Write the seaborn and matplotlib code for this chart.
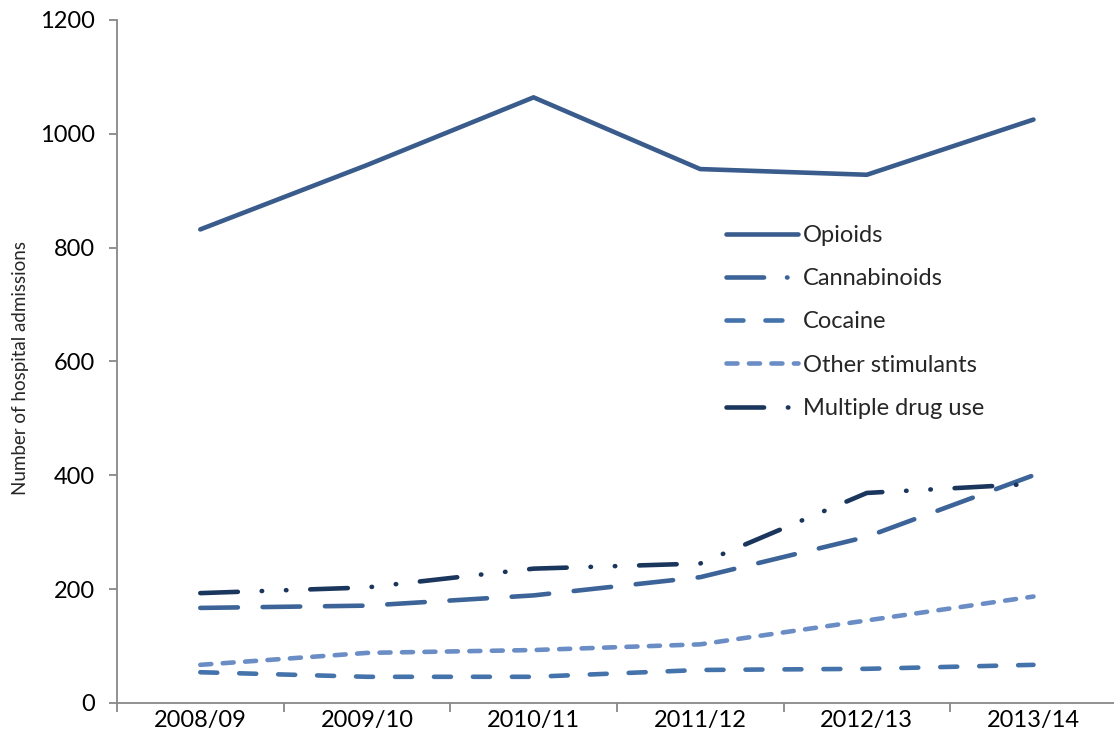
import numpy as np
import pandas as pd
import matplotlib
matplotlib.use("Agg")
import matplotlib.pyplot as plt
import seaborn as sns

# ── data ─────────────────────────────────────────────────────
years = ['2008/09', '2009/10', '2010/11', '2011/12', '2012/13', '2013/14']

opioids = [832, 945, 1064, 938, 928, 1025]
cannabinoids = [167, 171, 189, 221, 292, 400]
cocaine = [54, 46, 46, 58, 60, 67]
other_stimulants = [67, 88, 93, 103, 145, 187]
multiple_drug_use = [193, 203, 236, 245, 369, 385]

series_names = ['Opioids', 'Cannabinoids', 'Cocaine',
                'Other stimulants', 'Multiple drug use']
series_values = [opioids, cannabinoids, cocaine,
                 other_stimulants, multiple_drug_use]

# long format for seaborn
rows = []
for name, vals in zip(series_names, series_values):
    for i, v in enumerate(vals):
        rows.append({'pos': i, 'year': years[i], 'drug': name, 'admissions': v})
df = pd.DataFrame(rows)

palette = {
    'Opioids': '#3a5c8c',
    'Cannabinoids': '#3c6498',
    'Cocaine': '#4472aa',
    'Other stimulants': '#6a8dc5',
    'Multiple drug use': '#1b365d',
}
# dash patterns in units of line width (round caps add one width per dash)
dashes = {
    'Opioids': '',
    'Cannabinoids': (8.2, 5.4),
    'Cocaine': (3.7, 4.8),
    'Other stimulants': (2.4, 2.5),
    'Multiple drug use': (8.2, 5.2, 0.1, 5.2, 0.1, 5.2),
}

FS = 17
LW = 3.3

sns.set_theme(style='white')
plt.rcParams['font.family'] = ['Lato', 'DejaVu Sans']

fig = plt.figure(figsize=(11.14, 7.5), dpi=100)
ax = fig.add_axes([0.105, 0.0627, 0.8975, 0.9107])

sns.lineplot(data=df, x='pos', y='admissions', hue='drug', style='drug',
             hue_order=series_names, style_order=series_names,
             palette=palette, dashes=dashes, linewidth=LW, ax=ax)

for line in ax.get_lines():
    line.set_dash_capstyle('round')
    line.set_solid_capstyle('round')

ax.set_xlim(-0.5, 5.5)
ax.set_ylim(0, 1200)
ax.set_yticks(np.arange(0, 1201, 200))

# category boundaries carry the ticks, labels sit in between
ax.set_xticks(np.arange(-0.5, 5.6, 1.0))
ax.set_xticklabels([])
ax.set_xticks(np.arange(0, 6), minor=True)
ax.set_xticklabels(years, minor=True)
ax.tick_params(axis='x', which='major', direction='out', length=6.5,
               width=1.3, color='#888888', bottom=True)
ax.tick_params(axis='x', which='minor', length=0, pad=5, labelsize=FS,
               labelcolor='black')
ax.tick_params(axis='y', direction='out', length=6, width=1.3,
               color='#888888', left=True, labelsize=FS, pad=10,
               labelcolor='black')

ax.set_xlabel('')
ax.set_ylabel('Number of hospital admissions', fontsize=13.5)
ax.yaxis.set_label_coords(-0.088, 0.49)

for side in ['top', 'right']:
    ax.spines[side].set_visible(False)
for side in ['left', 'bottom']:
    ax.spines[side].set_color('#888888')
    ax.spines[side].set_linewidth(1.3)

handles, labels = ax.get_legend_handles_labels()
leg = ax.legend(handles, labels, loc='upper left',
                bbox_to_anchor=(726 / 1114, 1 - 225 / 750),
                bbox_transform=fig.transFigure, frameon=False,
                fontsize=FS, handlelength=3.05, handletextpad=0.21,
                labelspacing=0.94, borderpad=0, borderaxespad=0)
for ln, name in zip(leg.get_lines(), labels):
    ln.set_linewidth(LW)
    ln.set_dash_capstyle('round')
    ln.set_solid_capstyle('round')
    if name == 'Cannabinoids':
        ln.set_dashes((8.2, 5.0, 0.1, 5.0))

fig.savefig('out.png', dpi=100)
